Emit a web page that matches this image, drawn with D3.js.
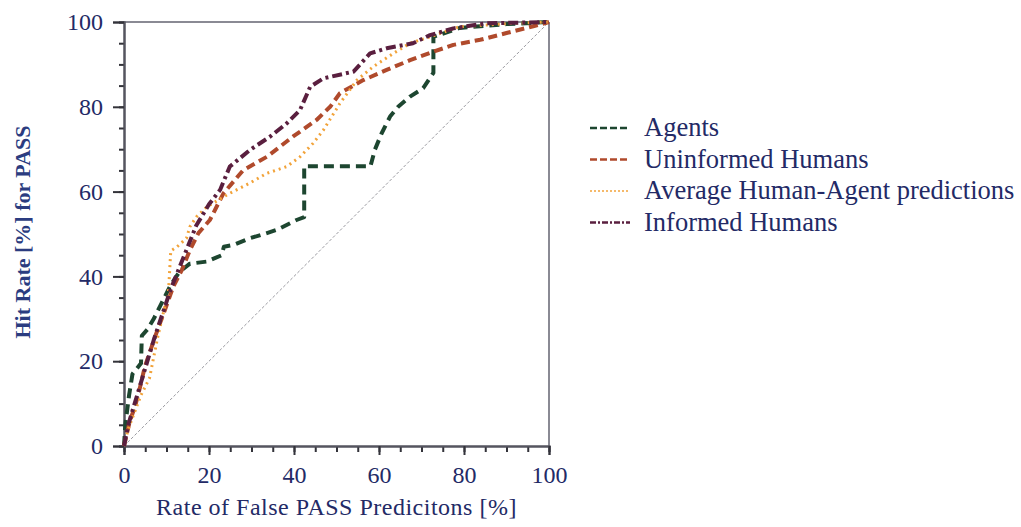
<!DOCTYPE html>
<html>
<head>
<meta charset="utf-8">
<script src="https://cdn.jsdelivr.net/npm/d3@7"></script>
<style>
  body { margin: 0; background: #fff; }
  text { font-family: "Liberation Serif", "DejaVu Serif", serif; fill: #232a66; }
</style>
</head>
<body>
<div id="chart"></div>
<script>
//! DATA
const SERIES = ['Agents', 'Uninformed Humans', 'Average Human-Agent predictions', 'Informed Humans'];
const X_TICKS = [0, 20, 40, 60, 80, 100];
const Y_TICKS = [0, 20, 40, 60, 80, 100];

const agents = [[0,0],[0.3,5],[1.2,12],[2,17],[4,19.5],[4.2,26],[5.5,27.5],[7,30],[9,34],[11,38],[13,41],[15.5,43],
  [19.5,43.5],[23,45],[23.5,47],[26,47.5],[29.6,49],[33,50],[36,51],[40.6,53.3],[42.4,54],[42.4,66],[58,66],
  [59,69.8],[60.6,73.7],[62.6,77.7],[64.5,80],[67.3,82.4],[70.4,84.4],[72.8,88],[72.8,96.5],[79,98.6],[90,99.5],[100,100]];
const uninformed = [[0,0],[1.4,6],[2.6,9.3],[3.8,14],[4.9,18.7],[6.5,23.4],[8.1,28],[9.6,32],[11.6,37.6],[13.6,41.5],
  [15.5,46.2],[17.5,50.2],[20.2,53.3],[23.4,59.6],[28,65],[33.6,68.2],[39.8,73],[45.3,76.9],[48.5,80],[50.8,83.2],
  [56.3,86.3],[61.8,88.7],[67.3,91],[72.8,93],[77.5,94.6],[83.8,95.8],[90,97.4],[96.3,99],[100,100]];
const average = [[0,0],[1,4],[2.5,8],[4,12],[6,16],[7,21],[8,26],[9.6,32.9],[10.4,35.2],[11,46],[12.5,47],[14.7,49],
  [15.5,51.7],[17,54],[19.5,56.4],[24.9,59.6],[29.6,62],[33.6,64.3],[38.3,65.9],[41.4,68.2],[44.5,71.4],[46.9,74.5],
  [50.8,80.8],[54.8,86.3],[58.7,89.5],[63.4,92.6],[67.3,95],[72,96.5],[79,98.9],[90,99.6],[100,100]];
const informed = [[0,0],[1,5],[2.5,10],[4,15],[5.5,20],[7,25],[9,31],[11,37],[13,42],[15,47],[17,52],[20,57],
  [22.6,60.4],[24.9,65.9],[29.6,69.8],[34.4,73],[38.3,76.1],[41.4,79.2],[43.8,84.7],[46.9,86.7],[54,88.3],
  [57.9,92.6],[61.8,93.8],[68,95],[72,96.9],[77.5,98.5],[85.3,99.7],[100,100]];

//! CONSTS
const WIDTH = 1021, HEIGHT = 527;
const LEFT = 124, RIGHT = 549, TOP = 22, BOTTOM = 446;

const styles = [
  { data: agents,     color: '#1d4630', dash: '10,6',     width: 4 },
  { data: uninformed, color: '#b04a2c', dash: '9,5',      width: 4 },
  { data: average,    color: '#f2a33a', dash: '2,4',      width: 3 },
  { data: informed,   color: '#5a1f3f', dash: '10,4,3,4', width: 4 }
];

const svg = d3.select('#chart').append('svg')
  .attr('width', WIDTH).attr('height', HEIGHT);

const x = d3.scaleLinear().domain([0, 100]).range([LEFT, RIGHT]);
const y = d3.scaleLinear().domain([0, 100]).range([BOTTOM, TOP]);

// frame
svg.append('line').attr('x1', LEFT).attr('x2', RIGHT).attr('y1', TOP).attr('y2', TOP)
  .attr('stroke', '#8a8a94').attr('stroke-width', 2);
svg.append('line').attr('x1', RIGHT).attr('x2', RIGHT).attr('y1', TOP).attr('y2', BOTTOM)
  .attr('stroke', '#8a8a94').attr('stroke-width', 2);

// diagonal
svg.append('line').attr('x1', x(0)).attr('y1', y(0)).attr('x2', x(100)).attr('y2', y(100))
  .attr('stroke', '#9a9aa0').attr('stroke-width', 1).attr('stroke-dasharray', '3,2');

// minor ticks
const minor = d3.range(0, 101, 5);
const xMinor = svg.append('g').attr('transform', `translate(0,${BOTTOM})`)
  .call(d3.axisBottom(x).tickValues(minor).tickSize(6).tickFormat(''));
const yMinor = svg.append('g').attr('transform', `translate(${LEFT},0)`)
  .call(d3.axisLeft(y).tickValues(minor).tickSize(5).tickFormat(''));

// major axes
const xAxis = svg.append('g').attr('transform', `translate(0,${BOTTOM})`)
  .call(d3.axisBottom(x).tickValues(X_TICKS).tickSize(9).tickPadding(11));
const yAxis = svg.append('g').attr('transform', `translate(${LEFT},0)`)
  .call(d3.axisLeft(y).tickValues(Y_TICKS).tickSize(11).tickPadding(10));

[xMinor, yMinor, xAxis, yAxis].forEach(g => {
  g.selectAll('path').attr('stroke', '#55555f').attr('stroke-width', 2);
  g.selectAll('line').attr('stroke', '#33333a').attr('stroke-width', 2);
});
[xAxis, yAxis].forEach(g => g.selectAll('text')
  .style('font-size', '24px').style('font-family', '"Liberation Serif", serif').attr('fill', '#232a66'));

// axis titles
svg.append('text').attr('x', (LEFT + RIGHT) / 2).attr('y', 515)
  .attr('text-anchor', 'middle').style('font-size', '24px').style('letter-spacing', '0.5px')
  .text('Rate of False PASS Predicitons [%]');
svg.append('text')
  .attr('transform', `translate(30,${(TOP + BOTTOM) / 2 - 2}) rotate(-90)`)
  .attr('text-anchor', 'middle').style('font-size', '22px').style('font-weight', 'bold')
  .style('fill', '#2b3c80')
  .text('Hit Rate [%] for PASS');

// lines
const line = d3.line().x(d => x(d[0])).y(d => y(d[1]));
svg.append('g').selectAll('path')
  .data(styles)
  .enter()
  .append('path')
  .attr('d', d => line(d.data))
  .attr('fill', 'none')
  .attr('stroke', d => d.color)
  .attr('stroke-width', d => d.width)
  .attr('stroke-dasharray', d => d.dash)
  .attr('stroke-linejoin', 'round');

// legend
const legend = svg.append('g').attr('id', 'legend');
const rows = legend.selectAll('g').data(SERIES).enter().append('g')
  .attr('transform', (d, i) => `translate(0,${127 + i * 31.5})`);
rows.append('line').attr('x1', 590).attr('x2', 630).attr('y1', 1).attr('y2', 1)
  .attr('stroke', (d, i) => styles[i].color)
  .attr('stroke-width', (d, i) => i === 2 ? 1.5 : 2.5)
  .attr('stroke-dasharray', (d, i) => ['7,3', '7,3', '2,2', '6,2,2,2'][i]);
rows.append('text').attr('x', 644).attr('y', 0).attr('dy', '0.35em')
  .style('font-size', '26.5px').text(d => d);
</script>
</body>
</html>
